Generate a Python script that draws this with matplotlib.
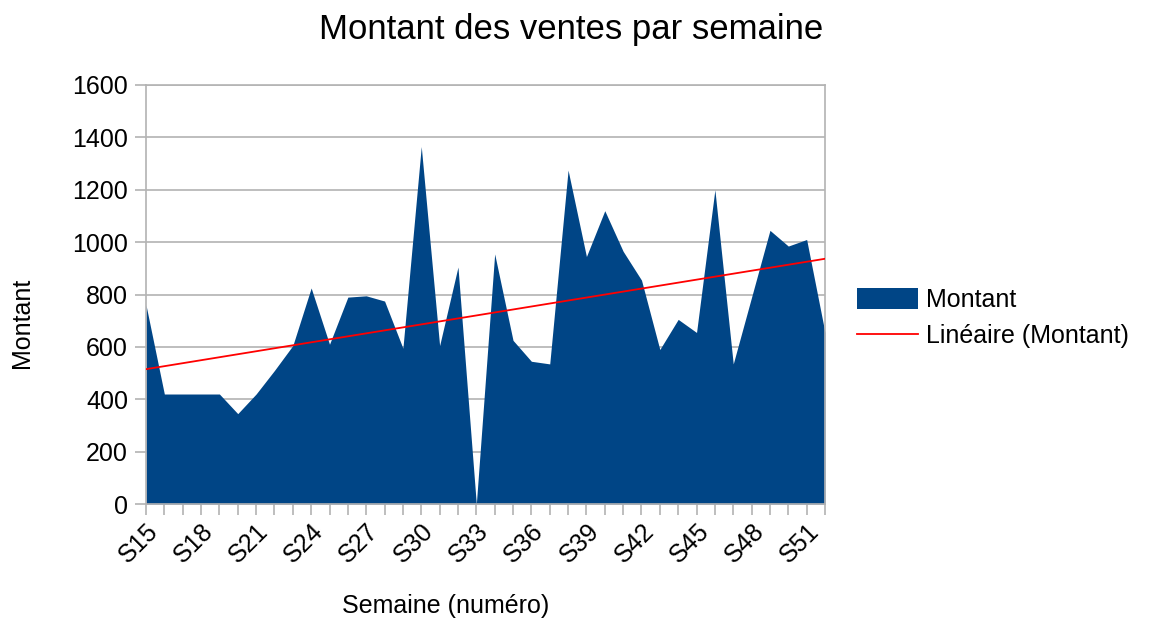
import numpy as np
import matplotlib
matplotlib.use("Agg")
import matplotlib.pyplot as plt
from matplotlib.patches import Patch
from matplotlib.lines import Line2D

plt.rcParams['font.family'] = ['Liberation Sans', 'DejaVu Sans']

# semaines S15 .. S52
semaines = ["S%d" % i for i in range(15, 53)]
montant = [760, 420, 420, 420, 420, 345, 420, 510, 605, 825,
           610, 790, 795, 775, 595, 1365, 605, 905, 0, 955,
           625, 545, 535, 1275, 945, 1120, 965, 855, 590, 705,
           655, 1200, 535, 790, 1045, 985, 1010, 655]

x = np.arange(len(semaines))
y = np.array(montant, dtype=float)

# tendance lineaire (moindres carres)
a, b = np.polyfit(x, y, 1)
tendance = a * x + b

fig = plt.figure(figsize=(11.52, 6.21), dpi=100)
ax = fig.add_axes([146/1152, 1 - 504/621, (825-146)/1152, (504-85)/621])

ax.fill_between(x, 0, y, color="#004586", linewidth=0, zorder=2)
ax.plot(x, tendance, color="#ff0000", linewidth=1.3, zorder=3)

ax.set_xlim(0, len(x) - 1)
ax.set_ylim(0, 1600)
ax.set_yticks(range(0, 1601, 200))
ax.yaxis.grid(True, color="#b3b3b3", linewidth=1.2, zorder=0)
ax.set_axisbelow(True)

ax.set_xticks(x, minor=True)
ax.set_xticks(x[::3])
ax.set_xticklabels(semaines[::3], rotation=45, ha="right", rotation_mode="anchor", fontsize=18)
ax.tick_params(axis="x", which="both", length=8, color="#b3b3b3", width=1.2, direction="out", pad=3)
ax.tick_params(axis="y", length=8, color="#b3b3b3", width=1.2, labelsize=18, pad=5)

for s in ax.spines.values():
    s.set_color("#b3b3b3")
    s.set_linewidth(1.2)

fig.text(446/1152, 1 - 606/621, "Semaine (numéro)", fontsize=18, ha="center", va="center")
fig.text(22/1152, 1 - 323/621, "Montant", fontsize=18, ha="center", va="center", rotation=90)
fig.text(571/1152, 1 - 30/621, "Montant des ventes par semaine", fontsize=25, ha="center", va="center")

handles = [Patch(facecolor="#004586", edgecolor="none"),
           Line2D([0], [0], color="#ff0000", linewidth=1.3)]
fig.legend(handles, ["Montant", "Linéaire (Montant)"], loc="center left",
           bbox_to_anchor=(834/1152, 1 - 318/621), frameon=False, fontsize=18,
           handlelength=2.45, handleheight=0.9, handletextpad=0.35, labelspacing=0.5)

fig.savefig("out.png", dpi=100)
